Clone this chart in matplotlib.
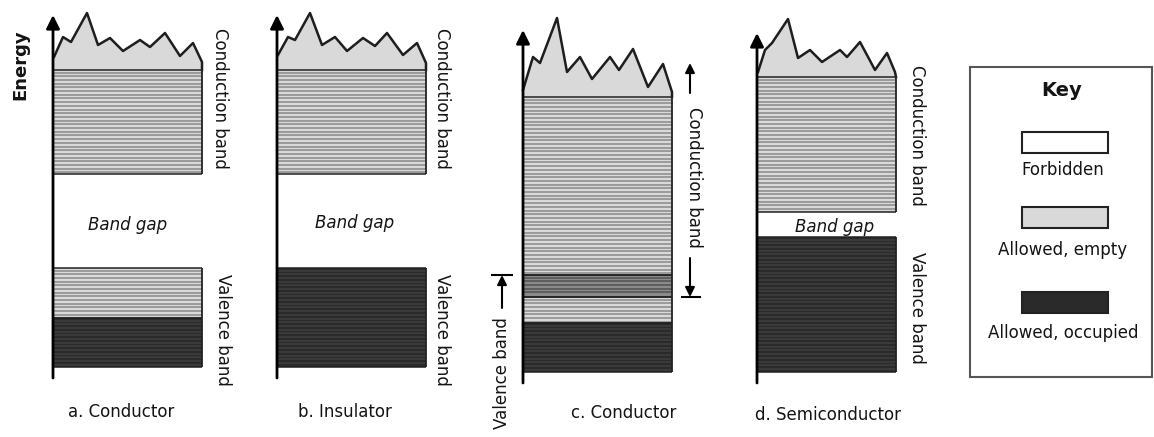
import numpy as np
import matplotlib.pyplot as plt
from matplotlib.patches import Rectangle, Polygon

# pixel-space layout (y grows downward)
panel_left = [53, 277, 523, 757]
panel_right = [202, 426, 672, 896]
axis_top = [15, 15, 30, 33]
axis_bottom = [378, 378, 383, 383]
captions = ['a. Conductor', 'b. Insulator', 'c. Conductor', 'd. Semiconductor']
caption_x = [121, 345, 624, 828]
caption_y = [412, 412, 413, 415]

# jagged top of the conduction band (allowed, empty continuum)
jag_x = [
    [54, 63, 71, 87, 98, 110, 123, 140, 150, 165, 180, 193, 202, 202],
    [278, 288, 295, 310, 322, 335, 347, 363, 375, 387, 403, 417, 426, 426],
    [523, 533, 540, 557, 567, 580, 592, 610, 619, 633, 648, 663, 672, 672],
    [758, 765, 772, 788, 798, 810, 822, 840, 847, 860, 875, 887, 895, 896],
]
jag_y = [
    [57, 37, 42, 13, 45, 38, 51, 40, 47, 33, 56, 43, 62, 70],
    [55, 37, 40, 13, 45, 37, 51, 38, 46, 33, 55, 43, 63, 70],
    [90, 57, 63, 18, 72, 57, 79, 57, 70, 49, 87, 64, 92, 97],
    [72, 50, 43, 19, 58, 50, 62, 50, 57, 42, 70, 53, 72, 77],
]

# bands: (panel, top, bottom, kind)
band_panel = [0, 0, 0, 1, 1, 2, 2, 2, 2, 3, 3]
band_top = [70, 268, 318, 70, 268, 97, 275, 297, 323, 77, 237]
band_bottom = [174, 318, 367, 174, 367, 275, 297, 323, 372, 212, 372]
band_kind = ['empty', 'empty', 'full', 'empty', 'full',
             'empty', 'mixed', 'empty', 'full', 'empty', 'full']

band_labels = ['Conduction band', 'Valence band', 'Conduction band', 'Valence band',
               'Conduction band', 'Valence band']
band_label_x = [220, 223, 442, 442, 917, 917]
band_label_y = [98, 330, 98, 330, 135, 308]

gap_x = [128, 355, 835]
gap_y = [225, 223, 227]

key_labels = ['Forbidden', 'Allowed, empty', 'Allowed, occupied']
key_kinds = ['none', 'empty', 'full']
key_box_top = [132, 207, 292]
key_text_y = [170, 250, 333]

fill = {'empty': '#d9d9d9', 'mixed': '#8a8a8a', 'full': '#2a2a2a', 'none': 'white'}
stripe = {'empty': '#959595', 'mixed': '#5a5a5a', 'full': '#3c3c3c'}

FONT = 'DejaVu Sans'
INK = '#141414'
fig = plt.figure(figsize=(11.54, 4.37), dpi=100)
ax = fig.add_axes([0, 0, 1, 1])
ax.set_xlim(0, 1154)
ax.set_ylim(437, 0)
ax.axis('off')

for i in range(4):
    pts = list(zip(jag_x[i], jag_y[i])) + [(panel_right[i], jag_y[i][-1] + 2),
                                           (panel_left[i], jag_y[i][-1] + 2)]
    ax.add_patch(Polygon(pts, closed=True, facecolor=fill['empty'], edgecolor='none', zorder=1))
    ax.plot(jag_x[i], jag_y[i], color='#1e1e1e', lw=1.8, zorder=3)

for p, t, b, k in zip(band_panel, band_top, band_bottom, band_kind):
    x0, x1 = panel_left[p], panel_right[p]
    ax.add_patch(Rectangle((x0, t), x1 - x0, b - t, facecolor=fill[k],
                           edgecolor='none', zorder=1))
    ax.hlines(np.arange(t + 2.5, b - 1, 3.7), x0, x1, colors=stripe[k], lw=1.3, zorder=2)
    ax.hlines([t, b], x0, x1, colors='#222222', lw=1.1, zorder=3)
    ax.vlines(x1, t, b, colors='#222222', lw=1.3, zorder=3)

for i in range(4):
    ax.annotate('', xy=(panel_left[i], axis_top[i]), xytext=(panel_left[i], axis_bottom[i]),
                arrowprops=dict(arrowstyle='-|>', lw=2.0, color='black',
                                mutation_scale=20, shrinkA=0, shrinkB=0), zorder=5)
    ax.text(caption_x[i], caption_y[i], captions[i], ha='center', va='center',
            fontsize=12, family=FONT, color=INK)

for s, x, y in zip(band_labels, band_label_x, band_label_y):
    ax.text(x, y, s, rotation=-90, ha='center', va='center', fontsize=12,
            family=FONT, color=INK)

for x, y in zip(gap_x, gap_y):
    ax.text(x, y, 'Band gap', ha='center', va='center', fontsize=12,
            style='italic', family=FONT, color=INK)

ax.text(20, 65, 'Energy', rotation=90, ha='center', va='center', fontsize=13,
        fontweight='bold', family=FONT, color=INK)

# panel c: extent arrows for the overlapping bands
ax.text(694, 177, 'Conduction band', rotation=-90, ha='center', va='center',
        fontsize=12, family=FONT, color=INK)
ax.annotate('', xy=(690, 63), xytext=(690, 93),
            arrowprops=dict(arrowstyle='-|>', lw=1.5, color='black', mutation_scale=14,
                            shrinkA=0, shrinkB=0))
ax.annotate('', xy=(690, 297), xytext=(690, 258),
            arrowprops=dict(arrowstyle='-|>', lw=1.5, color='black', mutation_scale=14,
                            shrinkA=0, shrinkB=0))
ax.hlines(297, 681, 701, colors='black', lw=1.5)
ax.text(502, 373, 'Valence band', rotation=90, ha='center', va='center',
        fontsize=12, family=FONT, color=INK)
ax.annotate('', xy=(502, 275), xytext=(502, 308),
            arrowprops=dict(arrowstyle='-|>', lw=1.5, color='black', mutation_scale=14,
                            shrinkA=0, shrinkB=0))
ax.hlines(275, 491, 513, colors='black', lw=1.5)

# key
ax.add_patch(Rectangle((970, 67), 182, 310, facecolor='white', edgecolor='#555555', lw=1.5))
ax.text(1062, 90, 'Key', ha='center', va='center', fontsize=14, fontweight='bold',
        family=FONT, color=INK)
for s, k, t, ty in zip(key_labels, key_kinds, key_box_top, key_text_y):
    ax.add_patch(Rectangle((1022, t), 86, 21, facecolor=fill[k], edgecolor='#222222', lw=1.5))
    ax.text(1063, ty, s, ha='center', va='center', fontsize=12, family=FONT, color=INK)

fig.savefig('out.png', dpi=100)
